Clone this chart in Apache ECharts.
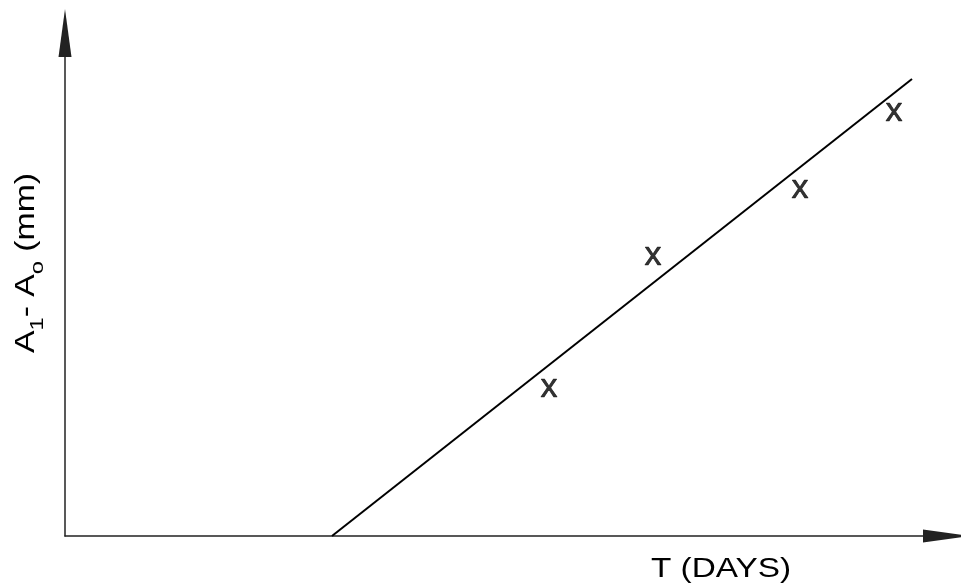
<!DOCTYPE html>
<html>
<head>
<meta charset="utf-8">
<script src="https://cdn.jsdelivr.net/npm/echarts@6/dist/echarts.min.js"></script>
<style>
html,body{margin:0;padding:0;background:#fff;}
#chart{width:961px;height:586px;}
</style>
</head>
<body>
<div id="chart"></div>
<script>
// Fitted straight line (start on the T axis, end at upper right)
var lineX = [30.27, 96.03];
var lineY = [0, 90.85];
// Measured points (drawn as "x")
var pointX = [54.88, 66.67, 83.33, 93.99];
var pointY = [29.22, 55.47, 68.79, 84.10];
// Axis titles
var xTitle = 'T (DAYS)';
var yTitleParts = ['A', '1', '- A', 'o', ' (mm)'];

var chart = echarts.init(document.getElementById('chart'));
var fontFam = 'Liberation Sans, Arial, sans-serif';

var axisCommon = {
  type: 'value', min: 0, max: 100,
  splitLine: {show: false}, axisTick: {show: false}, axisLabel: {show: false},
  axisLine: {show: true, onZero: false, symbol: ['none', 'triangle'], symbolSize: [13, 48],
    lineStyle: {color: '#222', width: 1.5}}
};

chart.setOption({
  animation: false,
  backgroundColor: '#fff',
  grid: {left: 65, right: 14, top: 33, bottom: 50, containLabel: false},
  xAxis: axisCommon,
  yAxis: axisCommon,
  graphic: [
    {type: 'text', x: 651, y: 569, scaleX: 1.19,
      style: {text: xTitle, font: '28px ' + fontFam, fill: '#000', align: 'left', verticalAlign: 'middle'}},
    {type: 'text', x: 27, y: 263, rotation: Math.PI / 2, scaleX: 1.25,
      style: {
        text: '{a|' + yTitleParts[0] + '}{s|' + yTitleParts[1] + '}{a|' + yTitleParts[2] + '}{s|' + yTitleParts[3] + '}{a|' + yTitleParts[4] + '}',
        align: 'center', verticalAlign: 'middle',
        rich: {
          a: {fontSize: 27, fontFamily: fontFam, color: '#000'},
          s: {fontSize: 19, fontFamily: fontFam, color: '#000', padding: [22, 0, 0, 0]}
        }
      }}
  ],
  series: [
    {type: 'line', data: lineX.map(function (x, i) { return [x, lineY[i]]; }),
      symbol: 'none', lineStyle: {color: '#000', width: 2}, silent: true},
    {type: 'scatter', data: pointX.map(function (x, i) { return [x, pointY[i]]; }),
      symbolSize: 2, itemStyle: {color: 'rgba(0,0,0,0)'},
      label: {show: true, position: 'inside', formatter: 'x', fontSize: 34, fontFamily: fontFam,
        color: '#000', textBorderColor: '#000', textBorderWidth: 0.6, offset: [0, -1]}}
  ]
});
</script>
</body>
</html>
